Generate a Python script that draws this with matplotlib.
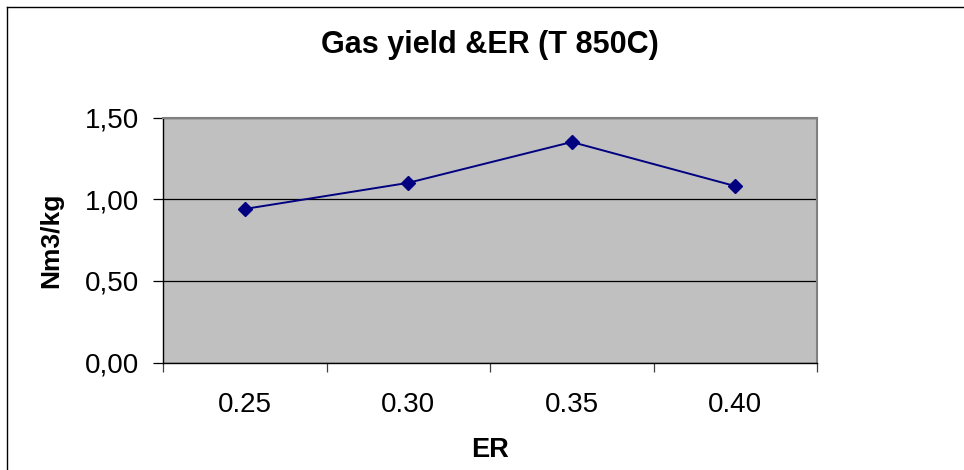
import matplotlib.pyplot as plt
from matplotlib.lines import Line2D
from matplotlib.ticker import FixedLocator, FuncFormatter

# equivalence ratio vs gas yield at 850 C
er_labels = ["0.25", "0.30", "0.35", "0.40"]
gas_yield = [0.94, 1.10, 1.35, 1.08]
y_ticks = [0.0, 0.5, 1.0, 1.5]

plt.rcParams['font.family'] = ['Liberation Sans', 'DejaVu Sans']

fig = plt.figure(figsize=(9.64, 4.70), dpi=100)
ax = fig.add_axes([163 / 964, 1 - 362.5 / 470, 654 / 964, 245 / 470])
ax.set_facecolor("#C0C0C0")

x = list(range(len(er_labels)))
ax.plot(x, gas_yield, color="#000080", linewidth=1.4, marker="D", markersize=7.5,
        markerfacecolor="#000080", markeredgecolor="#000080", zorder=3)

ax.set_xlim(-0.5, len(er_labels) - 0.5)
ax.set_ylim(0, 1.5)

# y axis with comma decimals
ax.set_yticks(y_ticks)
ax.yaxis.set_major_formatter(FuncFormatter(lambda v, p: f"{v:.2f}".replace(".", ",")))
ax.grid(axis="y", color="black", linewidth=0.9)
ax.tick_params(axis="y", direction="out", length=7.2, width=0.9, pad=10, labelsize=20)

# category labels centred, tick marks between categories
ax.set_xticks(x)
ax.set_xticklabels(er_labels)
ax.xaxis.set_minor_locator(FixedLocator([i - 0.5 for i in range(len(er_labels) + 1)]))
ax.tick_params(axis="x", which="major", length=0, pad=21, labelsize=20)
ax.tick_params(axis="x", which="minor", direction="out", length=6.5, width=0.9, color="#404040")

for side in ["left", "bottom"]:
    ax.spines[side].set_color("black")
    ax.spines[side].set_linewidth(1.0)
for side in ["top", "right"]:
    ax.spines[side].set_color("#808080")
    ax.spines[side].set_linewidth(1.5)

ax.set_title("Gas yield &ER (T 850C)", fontsize=22, fontweight="bold", y=1.262, pad=0)
ax.set_xlabel("ER", fontsize=19.5, fontweight="bold")
ax.xaxis.set_label_coords(0.5, -0.305)
ax.set_ylabel("Nm3/kg", fontsize=19, fontweight="bold")
ax.yaxis.set_label_coords(-0.153, 0.5)

# chart area border
fig.add_artist(Line2D([7 / 964, 7 / 964], [0, 1 - 7 / 470], transform=fig.transFigure,
                      color="black", linewidth=1.0))
fig.add_artist(Line2D([7 / 964, 1], [1 - 7 / 470, 1 - 7 / 470], transform=fig.transFigure,
                      color="black", linewidth=1.0))

fig.savefig("out.png", dpi=100)
